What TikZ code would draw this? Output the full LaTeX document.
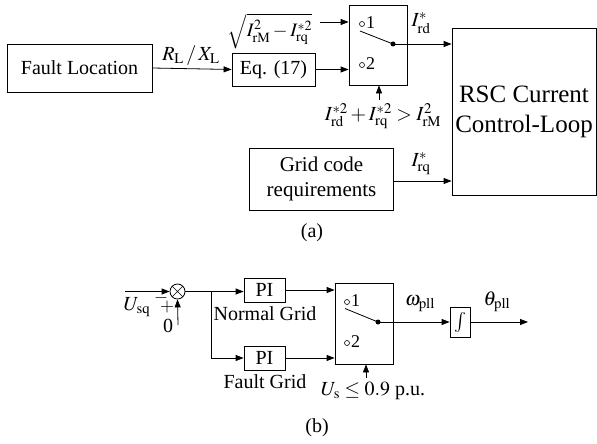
\documentclass[tikz,border=0pt]{standalone}
\usepackage{mathptmx}
\usepackage{fontspec}
\setmainfont{Liberation Serif}
\usetikzlibrary{arrows.meta,calc}
\begin{document}
\begin{tikzpicture}[x=1pt,y=-1pt,
  blk/.style={draw,line width=0.8pt,inner sep=0pt,align=center},
  txt/.style={inner sep=0pt,font=\fontsize{20}{24}\selectfont},
  sml/.style={inner sep=0pt,font=\fontsize{18}{20}\selectfont},
  arr/.style={line width=0.8pt,-{Triangle[length=8pt,width=6pt]}},
  ln/.style={line width=0.8pt},
  port/.style={circle,draw,line width=0.6pt,inner sep=0pt,minimum size=5pt},
  dotn/.style={circle,fill,inner sep=0pt,minimum size=5pt}]
\useasboundingbox (0,0) rectangle (597,444);
\tikzset{every node/.append style={font=\fontsize{20}{24}\selectfont}}
% ---------------- (a)
\node[blk,minimum width=145pt,minimum height=48pt] (fl) at (79.5,68) {Fault Location};
\node[blk,minimum width=83pt,minimum height=33pt] (eq) at (273.5,69.5) {Eq. (17)};
\node[blk,minimum width=58pt,minimum height=80pt] (swa) at (378,45) {};
\node[blk,minimum width=144pt,minimum height=167pt,font=\fontsize{25}{30}\selectfont] (rsc) at (524,111.5) {RSC Current\\Control-Loop};
\node[blk,minimum width=144pt,minimum height=62pt,font=\fontsize{21}{25}\selectfont] (grid) at (321.5,179) {Grid code\\requirements};
\draw[arr] (fl.east) -- (eq.west);
\node[txt] (rl) at (191,56) {$R_{\mathrm{L}}\,/\,X_{\mathrm{L}}$};
\draw[arr] (eq.east) -- (eq.east -| swa.west);
\node[txt,font=\fontsize{19}{22}\selectfont] (sq) at (270,31) {$\sqrt{I_{\mathrm{rM}}^{2}-I_{\mathrm{rq}}^{*2}}$};
\coordinate (sqe) at (320,22);
\draw[arr] (sqe) -- (sqe -| swa.west);
\node[port] (a1) at (362,24) {};
\node[sml,anchor=west] (a1t) at (366,23) {1};
\node[port] (a2) at (362,65) {};
\node[sml,anchor=west] (a2t) at (366,64) {2};
\node[dotn] (ad) at (393,44) {};
\coordinate (alev) at (360,31);
\draw[ln] (alev) -- (ad.center);
\draw[arr] (ad.center) -- (ad -| rsc.west);
\node[txt] (ird) at (421,23) {$I_{\mathrm{rd}}^{*}$};
\coordinate (acs) at (379,100);
\draw[arr] (acs) -- (acs |- swa.south);
\node[txt] (acond) at (383,116) {$I_{\mathrm{rd}}^{*2}+I_{\mathrm{rq}}^{*2}>I_{\mathrm{rM}}^{2}$};
\coordinate (gq) at (grid.east |- 0,181);
\draw[arr] (gq) -- (gq -| rsc.west);
\node[txt] (irq) at (421,164) {$I_{\mathrm{rq}}^{*}$};
\node[txt] (la) at (312,233) {(a)};
% ---------------- (b)
\node[circle,draw,line width=0.8pt,minimum size=15pt,inner sep=0pt] (sum) at (177.5,291.5) {};
\draw[line width=0.6pt] (sum.north west) -- (sum.south east) (sum.north east) -- (sum.south west);
\coordinate (uin) at (125,291.5);
\draw[arr] (uin) -- (sum.west);
\node[txt] (usq) at (137,307) {$U_{\mathrm{sq}}$};
\node[sml] (mn) at (161,298) {$-$};
\node[sml] (pl) at (167,307) {$+$};
\node[txt] (zero) at (168,326) {0};
\coordinate (zin) at (178,325);
\draw[arr] (zin) -- (sum.south);
\node[blk,minimum width=41pt,minimum height=24pt] (pi1) at (264.5,290) {PI};
\node[blk,minimum width=41pt,minimum height=24pt] (pi2) at (264.5,358) {PI};
\coordinate (br) at (211,291.5);
\draw[ln] (sum.east) -- (br);
\draw[arr] (br) -- (pi1.west |- br);
\draw[arr] (br) |- (pi2.west);
\node[txt] (ng) at (265,314) {Normal Grid};
\node[txt] (fg) at (265,382) {Fault Grid};
\node[blk,minimum width=58pt,minimum height=81pt] (swb) at (364,323.5) {};
\draw[arr] (pi1.east) -- (pi1.east -| swb.west);
\draw[arr] (pi2.east) -- (pi2.east -| swb.west);
\node[port] (b1) at (347,302) {};
\node[sml,anchor=west] (b1t) at (351,301) {1};
\node[port] (b2) at (347,343) {};
\node[sml,anchor=west] (b2t) at (351,342) {2};
\node[dotn] (bd) at (378,322) {};
\coordinate (blev) at (345,308.5);
\draw[ln] (blev) -- (bd.center);
\node[blk,minimum width=20pt,minimum height=30pt] (intg) at (460,322) {$\int$};
\draw[arr] (bd.center) -- (intg.west);
\node[txt] (wp) at (420,304) {$\omega_{\mathrm{pll}}$};
\coordinate (bout) at (528,322);
\draw[arr] (intg.east) -- (bout);
\node[txt] (tp) at (497,302) {$\theta_{\mathrm{pll}}$};
\coordinate (bcs) at (366,378);
\draw[arr] (bcs) -- (bcs |- swb.south);
\node[txt] (bcond) at (373,391) {$U_{\mathrm{s}}\leq 0.9$ p.u.};
\node[txt] (lb) at (317,428) {(b)};
\end{tikzpicture}
\end{document}
